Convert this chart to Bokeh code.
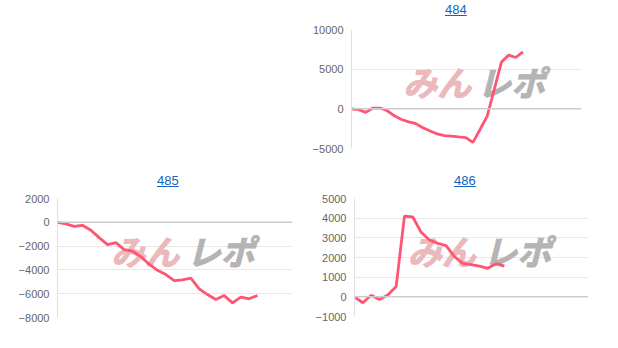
from bokeh.plotting import figure
from bokeh.layouts import column, row
from bokeh.models import Spacer, FixedTicker, Range1d, Span, Div
from bokeh.core.properties import value
from bokeh.embed import file_html
from bokeh.resources import INLINE

titles = ["484", "485", "486"]

s484 = [0, -100, -450, 100, 100, -240, -880, -1350, -1650, -1860, -2380, -2800,
        -3150, -3370, -3450, -3540, -3620, -4220, -2600, -920, 2500, 5910, 6770, 6470, 7190]
s485 = [0, -140, -340, -250, -670, -1290, -1870, -1710, -2290, -2430, -2880, -3520,
        -4030, -4390, -4900, -4840, -4700, -5590, -6070, -6490, -6160, -6770, -6290, -6430, -6150]
s486 = [0, -300, 80, -130, 90, 520, 4100, 4060, 3280, 2890, 2720, 2600, 2040,
        1700, 1640, 1560, 1450, 1690, 1560]

ticks484 = [-5000, 0, 5000, 10000]
ticks485 = [-8000, -6000, -4000, -2000, 0, 2000]
ticks486 = [-1000, 0, 1000, 2000, 3000, 4000, 5000]

xend = [32.2, 28.2, 28.1]

LINE = "#ff5573"
FONT = "Liberation Sans"
TITLE_C = "#1565c0"
DIV_H = 20


def make(title, ys, ticks, x_end, w, h, bl, br, bt, bb, tx, ty):
    html = ('<span style="text-decoration: underline; color: %s; font-family: \'%s\'; '
            'font-size: 13px;">%s</span>' % (TITLE_C, FONT, title))
    div = Div(text=html, width=w, height=DIV_H, margin=0,
              styles={"color": TITLE_C, "font-family": FONT, "font-size": "13px",
                      "padding-left": "%dpx" % tx, "padding-top": "%dpx" % ty,
                      "box-sizing": "border-box", "line-height": "15px"})
    p = figure(width=w, height=h - DIV_H, output_backend="svg", toolbar_location=None,
               x_range=Range1d(0, x_end), y_range=Range1d(ticks[0], ticks[-1]),
               min_border_left=bl, min_border_right=br, min_border_top=bt - DIV_H,
               min_border_bottom=bb)
    p.outline_line_color = None
    p.xaxis.visible = False
    p.xgrid.visible = False
    p.ygrid.grid_line_color = "#e8e8e8"
    ax = p.yaxis[0]
    ax.ticker = FixedTicker(ticks=ticks)
    ax.major_tick_line_color = None
    ax.minor_tick_line_color = None
    ax.major_tick_out = 0
    ax.minor_tick_out = 0
    ax.major_tick_in = 0
    ax.axis_line_color = "#e0e0e0"
    ax.major_label_text_font = FONT
    ax.major_label_text_font_size = "11px"
    ax.major_label_text_color = "#666666"
    ax.major_label_standoff = 8
    # watermark
    xs0 = p.x_range.start
    span_x = x_end - xs0
    ymid = ticks[0] + 0.56 * (ticks[-1] - ticks[0])
    p.text(x=[xs0 + 0.373 * span_x], y=[ymid], text=["みん"],
           text_font=value("Noto Sans CJK JP"), text_font_style="bold italic",
           text_font_size="34px", text_color="#ebb8bc",
           text_outline_color="#ebb8bc",
           text_align="center", text_baseline="middle")
    p.text(x=[xs0 + 0.695 * span_x], y=[ymid], text=["レポ"],
           text_font=value("Noto Sans CJK JP"), text_font_style="bold italic",
           text_font_size="34px", text_color="#b4b4b4",
           text_outline_color="#b4b4b4",
           text_align="center", text_baseline="middle")
    p.add_layout(Span(location=0, dimension="width", line_color="#cccccc", line_width=1.5))
    xs = list(range(len(ys)))
    p.line(xs, ys, line_color=LINE, line_width=2.8)
    return column(div, p, spacing=0)


c484 = make(titles[0], s484, ticks484, xend[0], 309, 169, 39, 37, 29, 21, 136, 2)
c485 = make(titles[1], s485, ticks485, xend[1], 309, 179, 57, 17, 29, 31, 157, 4)
c486 = make(titles[2], s486, ticks486, xend[2], 309, 179, 45, 30, 29, 32, 145, 4)

layout = column(row(Spacer(width=309, height=169), c484, spacing=0),
                row(c485, c486, spacing=0), spacing=0)

open("out.html", "w").write(file_html(layout, INLINE))
